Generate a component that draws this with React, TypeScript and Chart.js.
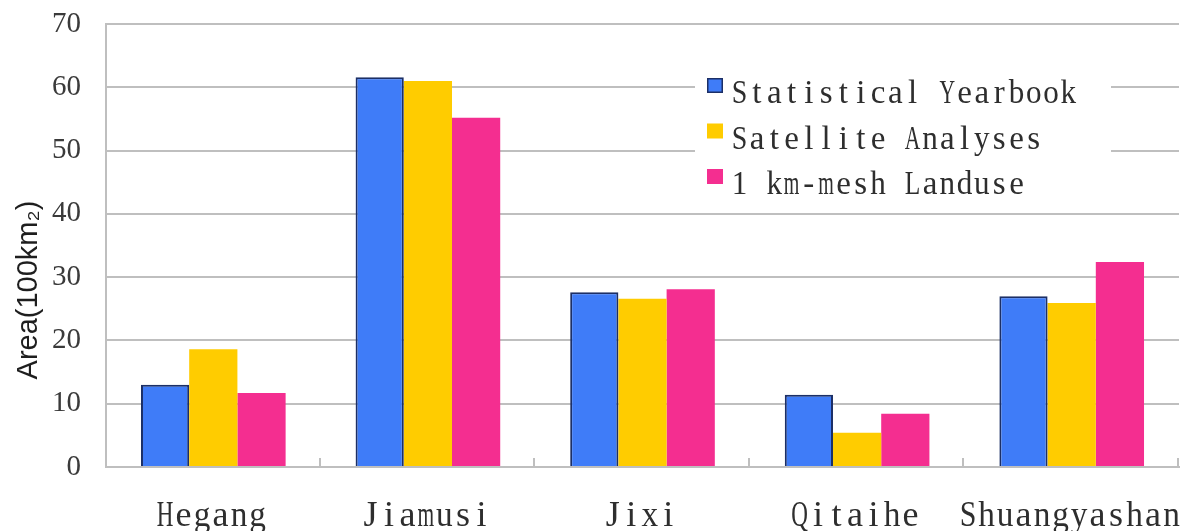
import React, { useEffect, useRef } from "react";
import { Chart, registerables } from "chart.js";

Chart.register(...registerables);

// Cultivated area by city, in units of 100 km²
const categories = ["Hegang", "Jiamusi", "Jixi", "Qitaihe", "Shuangyashan"];
const statisticalYearbook = [13.0, 61.6, 27.6, 11.4, 27.0];
const satelliteAnalyses = [18.6, 61.0, 26.6, 5.4, 25.9];
const meshLanduse = [11.7, 55.2, 28.1, 8.4, 32.4];
const seriesNames = ["Statistical Yearbook", "Satellite Analyses", "1 km-mesh Landuse"];
const yTicks = [0, 10, 20, 30, 40, 50, 60, 70];
const yTitle = "Area(100km\u2082)";

const BLUE = "#3f7cf8";
const YELLOW = "#ffcc00";
const PINK = "#f42e90";
const GRID = "#bfbfbf";
const TEXT = "#2e2e2e";
const SERIF = "'Liberation Serif', 'Times New Roman', serif";

// Lays a string out on a fixed character grid: every glyph is centred in
// its own cell and wide glyphs are narrowed so they fit, which gives the
// typewriter-like look of the labels.
function drawCellText(
  ctx: CanvasRenderingContext2D,
  text: string,
  left: number,
  baseline: number,
  cell: number,
  fill: number
) {
  for (let i = 0; i < text.length; i++) {
    const ch = text[i];
    if (ch === " ") continue;
    const w = ctx.measureText(ch).width;
    const sx = Math.min(1, (cell * fill) / w);
    ctx.save();
    ctx.translate(left + cell * (i + 0.5), baseline);
    ctx.scale(sx, 1);
    ctx.textAlign = "center";
    ctx.textBaseline = "alphabetic";
    ctx.fillText(ch, 0, 0);
    ctx.restore();
  }
}

// Category names, the framed legend block, the rotated axis title and
// the short category separators standing up from the baseline.
const decorPlugin = {
  id: "decor",
  afterDatasetsDraw(chart: any) {
    const { ctx, chartArea } = chart;
    const xs = chart.scales.x;
    ctx.save();

    // category separator ticks
    ctx.strokeStyle = GRID;
    ctx.lineWidth = 2;
    const n = categories.length;
    const step = (xs.right - xs.left) / n;
    for (let i = 1; i <= n; i++) {
      const x = Math.round(xs.left + i * step) - 1;
      ctx.beginPath();
      ctx.moveTo(x, chartArea.bottom);
      ctx.lineTo(x, chartArea.bottom - 9);
      ctx.stroke();
    }

    // category labels
    ctx.fillStyle = TEXT;
    ctx.font = `36px ${SERIF}`;
    const labelCell = 18.5;
    categories.forEach((name, i) => {
      const cx = xs.getPixelForValue(i);
      drawCellText(ctx, name, cx - (name.length * labelCell) / 2 - 2, chartArea.bottom + 59, labelCell, 0.9);
    });

    // legend
    const lx = chartArea.right - 484;
    const ly = chartArea.top + 42;
    ctx.fillStyle = "#ffffff";
    ctx.fillRect(lx, ly, 416, 138);
    const rowGap = 45.5;
    chart.data.datasets.forEach((ds: any, i: number) => {
      const sy = ly + 12 + i * rowGap;
      ctx.fillStyle = ds.backgroundColor;
      ctx.fillRect(lx + 12, sy, 16, 15);
      if (ds.borderWidth) {
        ctx.strokeStyle = ds.borderColor;
        ctx.lineWidth = 1.5;
        ctx.strokeRect(lx + 12.75, sy + 0.75, 14.5, 13.5);
      }
      ctx.fillStyle = TEXT;
      ctx.font = `33px ${SERIF}`;
      drawCellText(ctx, ds.label, lx + 36, ly + 37 + i * rowGap, 17.3, 0.9);
    });

    // y axis title
    ctx.save();
    ctx.translate(29, chartArea.bottom - 177);
    ctx.rotate(-Math.PI / 2);
    ctx.font = "29px 'Liberation Sans', Arial, sans-serif";
    ctx.fillStyle = "#1e1e1e";
    ctx.textAlign = "center";
    ctx.textBaseline = "middle";
    ctx.fillText(yTitle, 0, 0);
    ctx.restore();

    ctx.restore();
  },
};

export default function App() {
  const canvasRef = useRef<HTMLCanvasElement | null>(null);

  useEffect(() => {
    if (!canvasRef.current) return;
    const chart = new Chart(canvasRef.current, {
      type: "bar",
      data: {
        labels: categories,
        datasets: [
          {
            label: seriesNames[0],
            data: statisticalYearbook,
            backgroundColor: BLUE,
            borderColor: "#1c2f66",
            borderWidth: 2,
          },
          {
            label: seriesNames[1],
            data: satelliteAnalyses,
            backgroundColor: YELLOW,
            borderWidth: 0,
          },
          {
            label: seriesNames[2],
            data: meshLanduse,
            backgroundColor: PINK,
            borderWidth: 0,
          },
        ],
      },
      options: {
        animation: false,
        responsive: true,
        maintainAspectRatio: false,
        layout: { padding: { top: 24, right: 9, bottom: 0, left: 0 } },
        datasets: {
          bar: { categoryPercentage: 0.674, barPercentage: 1 },
        },
        plugins: {
          legend: { display: false },
          tooltip: { enabled: false },
        },
        scales: {
          x: {
            grid: { display: false },
            border: { display: true, color: GRID, width: 2 },
            ticks: { display: false },
            afterFit(scale: any) {
              scale.height = 64;
              scale.paddingLeft = 0;
              scale.paddingRight = 0;
            },
          },
          y: {
            min: 0,
            max: 70,
            afterBuildTicks(scale: any) {
              scale.ticks = yTicks.map((v) => ({ value: v }));
            },
            grid: { color: GRID, lineWidth: 2, drawTicks: false },
            border: { display: true, color: GRID, width: 2 },
            ticks: {
              color: "#3a3a3a",
              font: { family: SERIF, size: 29 },
              padding: 25,
            },
            afterFit(scale: any) {
              scale.width = 106;
              scale.paddingTop = 0;
              scale.paddingBottom = 0;
            },
          },
        },
      },
      plugins: [decorPlugin],
    });
    return () => chart.destroy();
  }, []);

  return (
    <div style={{ position: "absolute", left: 0, top: 0, width: 1188, height: 531, background: "#fff" }}>
      <canvas ref={canvasRef} />
    </div>
  );
}
